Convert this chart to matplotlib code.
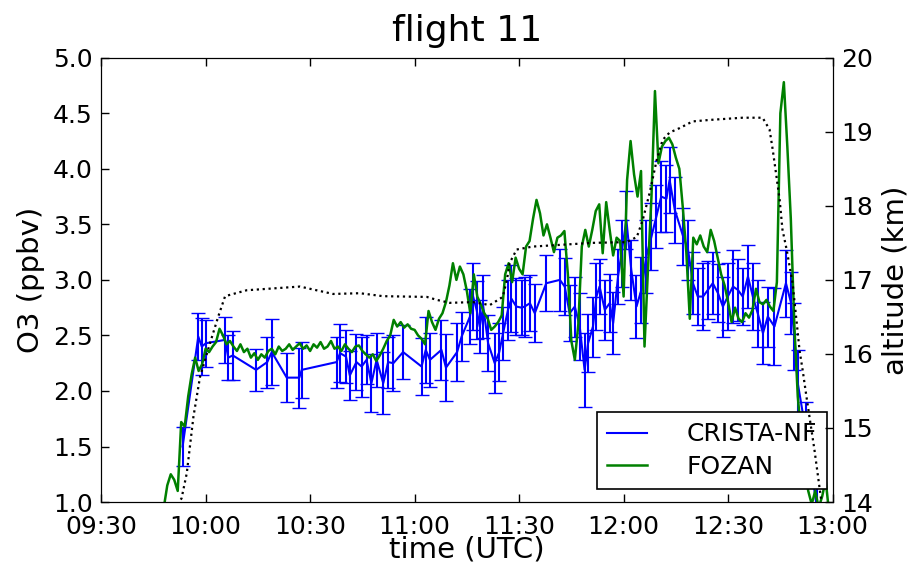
import numpy as np
import pandas as pd
import matplotlib
matplotlib.use("Agg")
from matplotlib import pyplot as plt
import matplotlib.dates as mdates

# times are minutes after 09:30 UTC
t_start = pd.Timestamp("2000-01-01 09:30")

# CRISTA-NF O3 (ppbv) with errors
crista_t = [23.4, 27.9, 28.9, 30.1, 35.6, 36.5, 37.8, 44.5, 47.7, 49.0,
            53.3, 56.9, 57.6, 67.6, 68.6, 70.3, 71.4, 73.3, 74.8, 76.2,
            77.6, 79.1, 81.0, 82.4, 83.9, 86.7, 92.0, 93.2, 94.4, 97.7,
            99.0, 102.2, 103.5, 105.9, 106.8, 107.8, 108.7, 109.7, 111.1, 113.0,
            114.3, 115.4, 116.8, 117.8, 119.2, 120.7, 121.6, 123.1, 124.5, 127.8,
            131.7, 133.1, 134.5, 136.0, 137.4, 138.8, 139.8, 141.2, 142.2, 143.1,
            144.6, 146.0, 147.0, 148.4, 149.4, 150.8, 152.2, 153.7, 155.1, 156.5,
            158.0, 159.4, 160.8, 162.3, 163.2, 164.7, 167.1, 168.5, 169.9, 171.3,
            172.8, 174.2, 175.6, 177.1, 178.5, 179.9, 181.4, 182.8, 184.2, 185.7,
            187.1, 188.5, 190.0, 191.4, 193.3, 196.6, 198.1, 199.0, 200.0, 202.5,
            205.5]
crista_o3 = [1.50, 2.49, 2.40, 2.43, 2.46, 2.30, 2.32, 2.19, 2.26, 2.35,
             2.12, 2.12, 2.19, 2.26, 2.34, 2.31, 2.14, 2.26, 2.22, 2.28,
             2.07, 2.28, 2.07, 2.26, 2.25, 2.35, 2.22, 2.37, 2.28, 2.37,
             2.21, 2.35, 2.49, 2.67, 2.85, 2.73, 2.58, 2.76, 2.43, 2.25,
             2.35, 2.52, 2.73, 2.83, 2.76, 2.75, 2.76, 2.79, 2.70, 2.97,
             3.00, 2.94, 2.70, 2.76, 2.58, 2.19, 2.43, 2.58, 2.85, 2.94,
             2.73, 2.79, 2.61, 3.03, 3.24, 3.54, 3.09, 2.76, 2.91, 3.21,
             3.39, 3.57, 3.75, 3.73, 3.90, 3.63, 3.39, 3.27, 2.97, 2.85,
             2.85, 2.91, 2.97, 2.88, 2.76, 2.85, 2.94, 2.91, 2.85, 3.03,
             2.85, 2.70, 2.52, 2.67, 2.58, 2.97, 2.79, 2.49, 2.07, 1.60,
             0.95]
crista_err = [0.18, 0.21, 0.26, 0.21, 0.21, 0.20, 0.22, 0.19, 0.23, 0.30,
              0.22, 0.27, 0.25, 0.23, 0.26, 0.24, 0.22, 0.25, 0.27, 0.22,
              0.26, 0.24, 0.28, 0.23, 0.25, 0.24, 0.26, 0.30, 0.24, 0.27,
              0.30, 0.26, 0.22, 0.25, 0.30, 0.26, 0.24, 0.28, 0.25, 0.27,
              0.26, 0.24, 0.27, 0.30, 0.26, 0.25, 0.27, 0.25, 0.26, 0.25,
              0.28, 0.26, 0.25, 0.27, 0.30, 0.33, 0.26, 0.27, 0.30, 0.25,
              0.27, 0.26, 0.28, 0.25, 0.30, 0.26, 0.27, 0.28, 0.30, 0.33,
              0.30, 0.28, 0.32, 0.30, 0.30, 0.30, 0.26, 0.27, 0.28, 0.26,
              0.30, 0.26, 0.28, 0.26, 0.27, 0.30, 0.33, 0.28, 0.26, 0.28,
              0.30, 0.30, 0.28, 0.27, 0.35, 0.30, 0.28, 0.30, 0.30, 0.30,
              0.30]

# FOZAN O3 (ppbv), one value per minute from minute 18
fozan_t0 = 18
fozan_o3 = [0.95, 1.15, 1.25, 1.20, 1.10, 1.72, 1.68, 1.95, 2.15, 2.30,
            2.18, 2.24, 2.38, 2.35, 2.40, 2.44, 2.56, 2.50, 2.42, 2.45,
            2.40, 2.36, 2.42, 2.35, 2.38, 2.30, 2.34, 2.28, 2.33, 2.30,
            2.36, 2.38, 2.33, 2.40, 2.36, 2.38, 2.42, 2.37, 2.40, 2.43,
            2.38, 2.41, 2.36, 2.42, 2.39, 2.44, 2.38, 2.40, 2.45, 2.38,
            2.40, 2.36, 2.42, 2.38, 2.35, 2.40, 2.41, 2.36, 2.33, 2.30,
            2.33, 2.27, 2.32, 2.38, 2.45, 2.50, 2.64, 2.58, 2.62, 2.57,
            2.60, 2.56, 2.55, 2.50, 2.47, 2.42, 2.72, 2.62, 2.55, 2.65,
            2.70, 2.80, 2.95, 3.15, 3.00, 3.12, 3.05, 2.90, 2.70, 3.05,
            2.85, 2.78, 2.70, 2.65, 2.55, 2.58, 2.62, 2.68, 3.05, 3.15,
            2.98, 3.20, 3.10, 3.05, 3.30, 3.35, 3.55, 3.72, 3.60, 3.40,
            3.50, 3.38, 3.25, 3.38, 3.40, 3.44, 3.05, 2.45, 2.28, 2.60,
            3.30, 3.45, 3.30, 3.45, 3.62, 3.68, 3.24, 3.70, 3.45, 3.22,
            3.38, 3.35, 2.85, 3.90, 4.25, 3.95, 3.75, 3.98, 2.40, 3.10,
            3.75, 4.70, 4.05, 4.20, 4.25, 4.28, 4.22, 4.10, 4.00, 3.65,
            3.25, 2.65, 3.38, 3.32, 3.40, 3.30, 3.25, 3.45, 3.35, 3.20,
            3.05, 2.95, 2.80, 2.62, 2.75, 2.65, 2.62, 2.70, 2.66, 2.73,
            2.92, 2.80, 2.78, 2.82, 2.76, 2.72, 2.98, 4.50, 4.78, 4.20,
            3.55, 2.60, 1.95, 1.60, 1.30, 1.10, 0.98, 1.10, 0.95, 1.05,
            1.20, 0.90]

# aircraft altitude (km)
alt_t = [21.0, 23.1, 24.6, 26.5, 28.4, 31.3, 33.6, 35.6, 41.8, 57.1,
         66.6, 74.3, 80.9, 93.5, 96.4, 100.1, 106.7, 111.6, 115.3, 116.5,
         117.3, 119.3, 123.9, 130.8, 141.1, 150.9, 153.8, 155.5, 157.5, 159.5,
         161.2, 163.2, 166.1, 169.8, 174.7, 184.2, 189.9, 191.9, 192.8, 193.9,
         194.8, 195.6, 196.8, 198.5, 199.7, 200.5, 201.4, 202.5, 204.8, 206.8]
alt_km = [13.9, 14.05, 14.39, 15.15, 15.69, 16.15, 16.5, 16.78, 16.86, 16.91,
          16.81, 16.82, 16.78, 16.77, 16.73, 16.69, 16.70, 16.66, 16.77, 17.0,
          17.23, 17.41, 17.45, 17.47, 17.5, 17.51, 17.58, 17.81, 18.18, 18.62,
          18.89, 18.99, 19.05, 19.14, 19.16, 19.19, 19.19, 19.03, 18.76, 18.39,
          18.08, 17.68, 17.41, 16.96, 16.42, 16.05, 15.78, 15.42, 14.7, 14.0]


def to_time(minutes):
    return t_start + pd.to_timedelta(np.asarray(minutes, dtype=float), unit="m")


fozan_t = np.arange(len(fozan_o3)) + fozan_t0

plt.rcParams["font.family"] = "DejaVu Sans"
plt.rcParams["xtick.direction"] = "in"
plt.rcParams["ytick.direction"] = "in"
plt.rcParams["xtick.top"] = True

fig = plt.figure(figsize=(9.19, 5.66), dpi=100)
ax = fig.add_axes([0.110, 0.113, 0.796, 0.785])

ax.errorbar(to_time(crista_t), crista_o3, yerr=crista_err, fmt="none",
            ecolor="b", elinewidth=1.5, capsize=5, capthick=1.0)
ax.plot(to_time(crista_t), crista_o3, "b-", lw=1.5, label="CRISTA-NF")
ax.plot(to_time(fozan_t), fozan_o3, "g-", lw=1.8, label="FOZAN")

ax.set_ylim(1.0, 5.0)
ax.set_xlim(to_time([0])[0], to_time([210])[0])
ax.xaxis.set_major_locator(mdates.MinuteLocator(byminute=[0, 30]))
ax.xaxis.set_major_formatter(mdates.DateFormatter("%H:%M"))
ax.set_yticks(np.arange(1.0, 5.01, 0.5))
ax.tick_params(labelsize=18, length=6, width=1, pad=6)
ax.tick_params(axis="x", pad=9)
ax.set_xlabel("time (UTC)", fontsize=21, labelpad=-2)
ax.set_ylabel("O3 (ppbv)", fontsize=21, labelpad=6)
ax.set_title("flight 11", fontsize=26, pad=12)

# legend box placed from the reference: right edge just inside the axes
leg = ax.legend(loc="lower right", fontsize=18, frameon=True, fancybox=False,
                edgecolor="k", handlelength=1.6, handletextpad=1.6,
                borderaxespad=0, labelspacing=0.35, framealpha=1,
                bbox_to_anchor=(0.993, 0.029))
leg.get_frame().set_linewidth(1.2)

ax2 = ax.twinx()
ax2.plot(to_time(alt_t), alt_km, "k:", lw=1.6)
ax2.set_ylim(14, 20)
ax2.set_yticks(range(14, 21))
ax2.tick_params(labelsize=18, length=6, width=1, pad=6)
ax2.set_ylabel("altitude (km)", fontsize=21, labelpad=6)

fig.savefig("out.png", dpi=100, facecolor="white")
